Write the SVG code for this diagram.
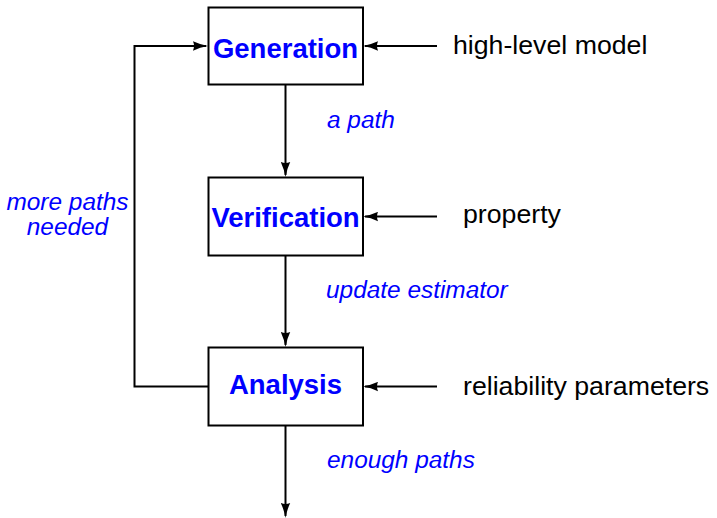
<svg xmlns="http://www.w3.org/2000/svg" width="717" height="518" viewBox="0 0 717 518">
  <defs>
    <marker id="arrow" viewBox="0 0 15 10" refX="13" refY="5" markerWidth="15" markerHeight="10" markerUnits="userSpaceOnUse" orient="auto">
      <path d="M0,0.3 Q7,3.6 15,5 Q7,6.4 0,9.7 Q2,5 0,0.3 Z" fill="#000"/>
    </marker>
    <style>
      .box { fill: #fff; stroke: #000; stroke-width: 2; }
      .title { font-family: "Liberation Sans", Arial, sans-serif; font-weight: bold; font-size: 27.5px; fill: #0000ff; text-anchor: middle; }
      .edge { fill: none; stroke: #000; stroke-width: 2; }
      .arrow { marker-end: url(#arrow); }
      .note { font-family: "Liberation Sans", Arial, sans-serif; font-style: italic; font-size: 24.4px; fill: #0000ff; }
      .input { font-family: "Liberation Sans", Arial, sans-serif; font-size: 26.7px; fill: #000; }
    </style>
  </defs>
  <rect width="717" height="518" fill="#fff"/>

  <!-- connectors -->
  <g id="connectors">
    <path class="edge arrow" d="M285.5,84 V175"/>
    <path class="edge arrow" d="M285.5,256 V345"/>
    <path class="edge arrow" d="M285.5,426 V516"/>
    <path class="edge arrow" d="M208,386.5 H134.5 V46 H206"/>
    <path class="edge arrow" d="M437,46 H365"/>
    <path class="edge arrow" d="M437,216.5 H365"/>
    <path class="edge arrow" d="M437,386.5 H365"/>
    <text class="note" x="327" y="128">a path</text>
    <text class="note" x="326" y="298">update estimator</text>
    <text class="note" x="327" y="468">enough paths</text>
    <text class="note" x="67.5" y="210" text-anchor="middle">more paths</text>
    <text class="note" x="67.5" y="235" text-anchor="middle">needed</text>
  </g>

  <!-- process steps -->
  <g id="generation">
    <rect class="box" x="208.5" y="7.5" width="154.5" height="77"/>
    <text class="title" x="285.5" y="57.5">Generation</text>
  </g>
  <g id="verification">
    <rect class="box" x="208.5" y="177.5" width="154.5" height="78"/>
    <text class="title" x="285.5" y="227">Verification</text>
  </g>
  <g id="analysis">
    <rect class="box" x="208.5" y="347.5" width="154.5" height="78"/>
    <text class="title" x="285.5" y="394">Analysis</text>
  </g>

  <!-- external inputs -->
  <g id="input-model">
    <text class="input" x="453" y="53.5">high-level model</text>
  </g>
  <g id="input-property">
    <text class="input" x="463" y="222.5">property</text>
  </g>
  <g id="input-reliability">
    <text class="input" x="463" y="394.5">reliability parameters</text>
  </g>
</svg>
